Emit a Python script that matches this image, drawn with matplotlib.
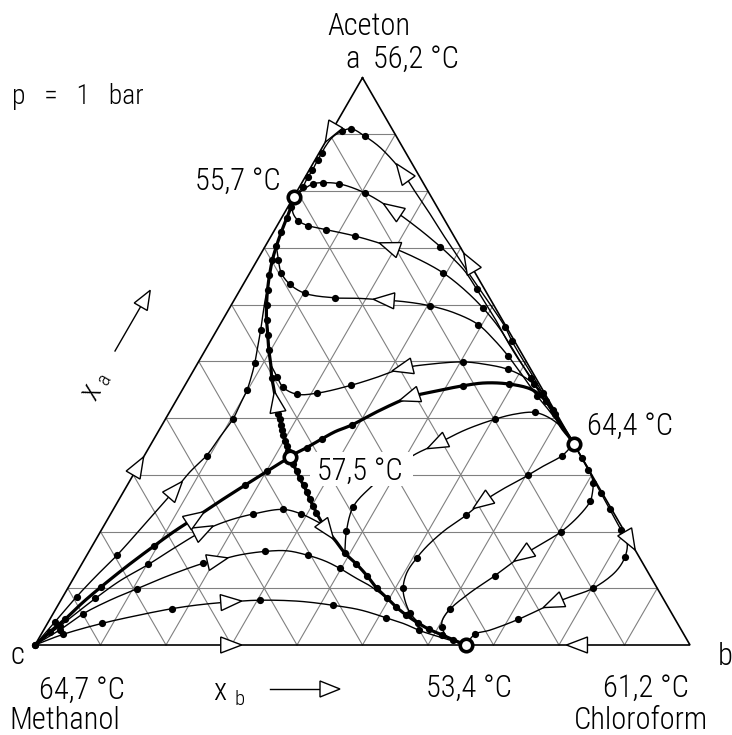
import numpy as np
import matplotlib
matplotlib.use("Agg")
import matplotlib.pyplot as plt
from matplotlib.patches import Polygon, Rectangle

plt.rcParams['font.family'] = ['Roboto Condensed', 'Liberation Sans Narrow',
                               'Liberation Sans', 'DejaVu Sans']
plt.rcParams['font.weight'] = 'light'

# compositions are (x_a, x_b): a = Aceton, b = Chloroform, c = Methanol
A = (1.0, 0.0)
B = (0.0, 1.0)
C = (0.0, 0.0)
AZ_AC = (0.790, 0.0)      # 55,7 °C
AZ_AB = (0.355, 0.645)    # 64,4 °C
AZ_CB = (0.0, 0.658)      # 53,4 °C
AZ_ABC = (0.331, 0.224)   # 57,5 °C

# residue curves, each from its high boiling end to the low boiling end
alpha = [AZ_AB, (0.398, 0.599), (0.437, 0.560), (0.476, 0.521), (0.511, 0.485),
         (0.536, 0.460), (0.561, 0.437), (0.591, 0.405), (0.622, 0.371), (0.652, 0.338),
         (0.684, 0.304), (0.719, 0.266), (0.760, 0.223), (0.797, 0.183), (0.832, 0.146),
         (0.859, 0.113), (0.880, 0.084), (0.897, 0.055), (0.910, 0.028), (0.906, 0.016),
         (0.896, 0.007), (0.880, 0.004), (0.867, 0.004), (0.855, 0.004), (0.837, 0.005),
         (0.825, 0.004), (0.807, 0.005), AZ_AC]
alpha_dots = [5, 6, 17, 18, 19, 22, 23, 24, 25, 26]
alpha_arrows = [14]

beta = [AZ_AB, (0.400, 0.597), (0.435, 0.559), (0.471, 0.522), (0.502, 0.488),
        (0.534, 0.455), (0.568, 0.422), (0.598, 0.391), (0.627, 0.361), (0.658, 0.328),
        (0.681, 0.298), (0.702, 0.268), (0.735, 0.217), (0.767, 0.163), (0.797, 0.105),
        (0.813, 0.058), (0.815, 0.032), (0.813, 0.018), (0.804, 0.009), AZ_AC]
beta_dots = [3, 8, 11, 14, 15, 16, 17]
beta_arrows = [13]

gamma = [AZ_AB, (0.395, 0.601), (0.428, 0.566), (0.460, 0.532), (0.495, 0.496),
         (0.527, 0.463), (0.561, 0.427), (0.594, 0.387), (0.628, 0.340), (0.656, 0.295),
         (0.679, 0.248), (0.702, 0.191), (0.721, 0.128), (0.732, 0.079), (0.739, 0.048),
         (0.748, 0.028), (0.763, 0.012), AZ_AC]
gamma_dots = [3, 7, 9, 12, 13, 14, 15]
gamma_arrows = [11]

delta = [AZ_AB, (0.391, 0.604), (0.416, 0.575), (0.439, 0.547), (0.474, 0.508),
         (0.510, 0.467), (0.538, 0.432), (0.565, 0.394), (0.585, 0.349), (0.598, 0.304),
         (0.605, 0.263), (0.608, 0.230), (0.611, 0.191), (0.612, 0.152), (0.620, 0.102),
         (0.636, 0.071), (0.656, 0.048), (0.679, 0.032), (0.703, 0.017)]
delta_dots = [3, 5, 7, 9, 13, 14, 15, 16, 17]
delta_arrows = [11]

eta = [AZ_AB, (0.386, 0.608), (0.414, 0.584), (0.444, 0.553), (0.469, 0.517),
       (0.486, 0.479), (0.495, 0.439), (0.499, 0.404), (0.495, 0.355), (0.488, 0.318),
       (0.471, 0.284), (0.458, 0.254), (0.444, 0.209), (0.442, 0.179), (0.454, 0.152),
       (0.473, 0.133), (0.494, 0.113)]
eta_dots = [2, 3, 5, 7, 11, 12, 13, 14, 15]
eta_arrows = [9]

theta = [C, (0.041, 0.010), (0.085, 0.021), (0.120, 0.032), (0.158, 0.046),
         (0.213, 0.061), (0.273, 0.077), (0.305, 0.084), (0.334, 0.095), (0.367, 0.099),
         (0.399, 0.103), (0.425, 0.101), (0.449, 0.099), (0.472, 0.094), (0.497, 0.087),
         (0.529, 0.076), (0.555, 0.067), (0.587, 0.055), (0.612, 0.046), (0.626, 0.042)]
theta_dots = [0, 1, 2, 4, 8, 10, 12, 14, 16]
theta_arrows = [6]

iota2 = [C, (0.033, 0.021), (0.082, 0.051), (0.113, 0.073), (0.142, 0.102),
         (0.172, 0.128), (0.201, 0.156), (0.219, 0.185), (0.231, 0.218), (0.239, 0.259),
         (0.231, 0.291), (0.213, 0.332)]
iota2_dots = [1, 2, 4, 8, 9, 10, 11]
iota2_arrows = [6]

iota3 = [C, (0.027, 0.025), (0.055, 0.046), (0.079, 0.075), (0.099, 0.106),
         (0.123, 0.144), (0.144, 0.185), (0.149, 0.203), (0.159, 0.234), (0.165, 0.269),
         (0.166, 0.302), (0.158, 0.338), (0.148, 0.369), (0.135, 0.398), (0.118, 0.431),
         (0.106, 0.456), (0.083, 0.496)]
iota3_dots = [1, 2, 4, 6, 9, 11, 13]
iota3_arrows = [7]

iota4 = [C, (0.019, 0.034), (0.038, 0.083), (0.052, 0.130), (0.064, 0.177),
         (0.071, 0.216), (0.076, 0.260), (0.079, 0.304), (0.077, 0.366), (0.070, 0.420),
         (0.062, 0.465), (0.048, 0.512), (0.037, 0.546), (0.026, 0.573), (0.014, 0.611),
         (0.006, 0.638), AZ_CB]
iota4_dots = [1, 2, 4, 7, 9, 11, 13]
iota4_arrows = [6]

epsilon = [AZ_AB, (0.383, 0.613), (0.400, 0.586), (0.410, 0.558), (0.407, 0.529),
           (0.398, 0.503), (0.379, 0.467), (0.355, 0.437), (0.335, 0.411), (0.309, 0.391),
           (0.277, 0.373), (0.244, 0.364), (0.201, 0.375), (0.162, 0.392)]
epsilon_dots = [3, 5, 11, 12]
epsilon_arrows = [7]

zeta1 = [AZ_AB, (0.334, 0.638), (0.317, 0.620), (0.299, 0.603), (0.277, 0.579),
         (0.252, 0.557), (0.229, 0.544), (0.203, 0.525), (0.176, 0.512), (0.153, 0.506),
         (0.127, 0.504), (0.100, 0.512), (0.078, 0.526), (0.056, 0.545), (0.041, 0.564),
         (0.028, 0.587)]
zeta1_dots = [1, 3, 6, 9, 11, 13]
zeta1_arrows = [5]

zeta2 = [AZ_AB, (0.330, 0.670), (0.305, 0.695), (0.286, 0.709), (0.268, 0.717),
         (0.253, 0.721), (0.226, 0.716), (0.199, 0.703), (0.179, 0.685), (0.159, 0.666),
         (0.122, 0.641), (0.092, 0.618), (0.063, 0.602), (0.044, 0.600), (0.031, 0.606),
         (0.016, 0.620), (0.006, 0.638), AZ_CB]
zeta2_dots = [1, 3, 5, 7, 10, 12, 14]
zeta2_arrows = [9]

zeta3 = [AZ_AB, (0.309, 0.690), (0.268, 0.730), (0.239, 0.758), (0.203, 0.793),
         (0.180, 0.814), (0.156, 0.823), (0.130, 0.822), (0.100, 0.802), (0.085, 0.775),
         (0.074, 0.755), (0.045, 0.715), (0.026, 0.681), (0.019, 0.662), AZ_CB]
zeta3_dots = [1, 2, 3, 4, 6, 8, 11, 13]
zeta3_arrows = [10]

# distillation boundaries (separatrices)
sep_ab = [AZ_AB, (0.381, 0.617), (0.407, 0.590), (0.430, 0.565), (0.450, 0.534),
          (0.460, 0.494), (0.462, 0.456), (0.457, 0.425), (0.448, 0.390), (0.437, 0.354),
          (0.414, 0.320), (0.388, 0.290), (0.376, 0.270), (0.363, 0.256), (0.348, 0.241),
          (0.340, 0.231), AZ_ABC]
sep_ab_dots = [2, 3, 5, 7, 11, 13, 14]
sep_ab_arrows = [9]

sep_ac = [AZ_ABC, (0.342, 0.215), (0.351, 0.209), (0.360, 0.202), (0.370, 0.194),
          (0.379, 0.188), (0.388, 0.182), (0.398, 0.175), (0.407, 0.168), (0.427, 0.155),
          (0.450, 0.140), (0.471, 0.126), (0.494, 0.113), (0.520, 0.097), (0.547, 0.082),
          (0.573, 0.067), (0.599, 0.054), (0.626, 0.042), (0.652, 0.032), (0.679, 0.023),
          (0.703, 0.017), (0.728, 0.012), (0.753, 0.008), (0.772, 0.005), AZ_AC]
sep_ac_dots = [1, 2, 3, 4, 5, 6, 7, 8, 11, 13, 14, 15, 16, 17, 18, 19, 20, 21, 22, 23]
sep_ac_arrows = [9]

sep_c = [C, (0.023, 0.011), (0.045, 0.023), (0.074, 0.035), (0.103, 0.050),
         (0.139, 0.071), (0.174, 0.094), (0.201, 0.113), (0.224, 0.132), (0.254, 0.156),
         (0.282, 0.180), (0.306, 0.201), (0.321, 0.214), AZ_ABC]
sep_c_dots = [0, 1, 2, 4, 6, 10, 11]
sep_c_arrows = [8]

sep_cb = [AZ_ABC, (0.319, 0.234), (0.307, 0.246), (0.294, 0.257), (0.282, 0.269),
          (0.270, 0.280), (0.257, 0.291), (0.245, 0.302), (0.233, 0.313), (0.219, 0.327),
          (0.203, 0.344), (0.182, 0.369), (0.162, 0.392), (0.143, 0.419), (0.122, 0.446),
          (0.100, 0.472), (0.083, 0.496), (0.067, 0.518), (0.053, 0.540), (0.039, 0.565),
          (0.028, 0.587), (0.018, 0.612), (0.009, 0.634), AZ_CB]
sep_cb_dots = [1, 2, 3, 4, 5, 6, 7, 8, 12, 13, 14, 15, 16, 17, 18, 19, 20, 21, 22]
sep_cb_arrows = [10]

# arrow positions on the binary edges
edge_c_ac = [C, (0.314, 0.0), AZ_AC]
edge_a_ac = [A, (0.904, 0.0), AZ_AC]
edge_ab_a = [AZ_AB, (0.673, 0.327), A]
edge_ab_b = [AZ_AB, (0.185, 0.815), B]
edge_c_cb = [C, (0.0, 0.298), AZ_CB]
edge_b_cb = [B, (0.0, 0.829), AZ_CB]

S = 655.0   # pixels per unit side


def tern(pts):
    p = np.asarray(pts, float)
    a, b = p[:, 0], p[:, 1]
    return np.column_stack([b + a / 2, a * np.sqrt(3) / 2])


def px(x, y):
    return (x - 35) / S, (645 - y) / S


def catmull(P, n=10):
    P = np.asarray(P, float)
    if len(P) < 3:
        return P
    ext = np.vstack([2 * P[0] - P[1], P, 2 * P[-1] - P[-2]])
    out = [P[:1]]
    for i in range(len(P) - 1):
        p0, p1, p2, p3 = ext[i], ext[i + 1], ext[i + 2], ext[i + 3]
        t0 = 0.0
        t1 = t0 + max(np.hypot(*(p1 - p0)), 1e-9) ** 0.5
        t2 = t1 + max(np.hypot(*(p2 - p1)), 1e-9) ** 0.5
        t3 = t2 + max(np.hypot(*(p3 - p2)), 1e-9) ** 0.5
        t = np.linspace(t1, t2, n + 1)[1:, None]
        A1 = (t1 - t) / (t1 - t0) * p0 + (t - t0) / (t1 - t0) * p1
        A2 = (t2 - t) / (t2 - t1) * p1 + (t - t1) / (t2 - t1) * p2
        A3 = (t3 - t) / (t3 - t2) * p2 + (t - t2) / (t3 - t2) * p3
        B1 = (t2 - t) / (t2 - t0) * A1 + (t - t0) / (t2 - t0) * A2
        B2 = (t3 - t) / (t3 - t1) * A2 + (t - t1) / (t3 - t1) * A3
        out.append((t2 - t) / (t2 - t1) * B1 + (t - t1) / (t2 - t1) * B2)
    return np.vstack(out)


def arrowhead(ax, x, y, dx, dy, length=21 / S, half=8 / S, back=0.45):
    n = np.hypot(dx, dy)
    u = np.array([dx, dy]) / n
    v = np.array([-u[1], u[0]])
    c = np.array([x, y])
    tip = c + (1 - back) * length * u
    base = c - back * length * u
    ax.add_patch(Polygon([tip, base + half * v, base - half * v], closed=True,
                         fc='white', ec='black', lw=1.0, zorder=5, joinstyle='miter'))


def draw_curve(ax, pts, dots, arrows, lw):
    xy = tern(pts)
    sm = catmull(xy)
    ax.plot(sm[:, 0], sm[:, 1], color='black', lw=lw, zorder=3,
            solid_capstyle='round', solid_joinstyle='round')
    if dots:
        ax.plot(xy[dots, 0], xy[dots, 1], 'o', color='black', ms=5.2, mew=0, zorder=4)
    for i in arrows:
        d = xy[min(i + 1, len(xy) - 1)] - xy[max(i - 1, 0)]
        arrowhead(ax, xy[i, 0], xy[i, 1], d[0], d[1])


fig = plt.figure(figsize=(7.32, 7.35), dpi=100)
ax = fig.add_axes([0, 0, 1, 1])
ax.set_xlim(-35 / S, 697 / S)
ax.set_ylim(-90 / S, 645 / S)
ax.axis('off')

# 10 % grid
for k in range(1, 10):
    f = k / 10
    for seg in ([(f, 0), (f, 1 - f)], [(0, f), (1 - f, f)], [(0, 1 - f), (1 - f, 0)]):
        g = tern(seg)
        ax.plot(g[:, 0], g[:, 1], color='0.5', lw=0.8, zorder=1)

tri = tern([A, B, C, A])
ax.plot(tri[:, 0], tri[:, 1], color='black', lw=1.2, zorder=3,
        solid_joinstyle='miter')

thin = [(alpha, alpha_dots, alpha_arrows), (beta, beta_dots, beta_arrows),
        (gamma, gamma_dots, gamma_arrows), (delta, delta_dots, delta_arrows),
        (eta, eta_dots, eta_arrows), (theta, theta_dots, theta_arrows),
        (iota2, iota2_dots, iota2_arrows), (iota3, iota3_dots, iota3_arrows),
        (iota4, iota4_dots, iota4_arrows), (epsilon, epsilon_dots, epsilon_arrows),
        (zeta1, zeta1_dots, zeta1_arrows), (zeta2, zeta2_dots, zeta2_arrows),
        (zeta3, zeta3_dots, zeta3_arrows)]
thick = [(sep_ab, sep_ab_dots, sep_ab_arrows), (sep_ac, sep_ac_dots, sep_ac_arrows),
         (sep_c, sep_c_dots, sep_c_arrows), (sep_cb, sep_cb_dots, sep_cb_arrows)]

for pts, d, a in thin:
    draw_curve(ax, pts, d, a, 1.0)
for pts, d, a in thick:
    draw_curve(ax, pts, d, a, 2.3)

for edge in (edge_c_ac, edge_a_ac, edge_ab_a, edge_ab_b, edge_c_cb, edge_b_cb):
    e = tern(edge)
    d = e[2] - e[0]
    arrowhead(ax, e[1, 0], e[1, 1], d[0], d[1])

# azeotropes
az = tern([AZ_AC, AZ_AB, AZ_CB, AZ_ABC])
ax.plot(az[:, 0], az[:, 1], 'o', ms=9, mfc='white', mec='black', mew=2.6, zorder=8)

# white patch behind the ternary azeotrope label
x0, y0 = px(310, 486)
ax.add_patch(Rectangle((x0, y0), 103 / S, 34 / S, fc='white', ec='none', zorder=6))

FS = 22
kw = dict(va='baseline', zorder=7, fontsize=FS)
ax.text(*px(369, 35), 'Aceton', ha='center', **kw)
ax.text(*px(345, 68), 'a', ha='left', **kw)
ax.text(*px(373, 68), '56,2 °C', ha='left', **kw)
ax.text(*px(12, 104), 'p   =   1   bar', ha='left', va='baseline', fontsize=20)
ax.text(*px(238, 190), '55,7 °C', ha='center', **kw)
ax.text(*px(630, 435), '64,4 °C', ha='center', **kw)
ax.text(*px(359.5, 480), '57,5 °C', ha='center', **kw)
ax.text(*px(10, 664), 'c', ha='left', **kw)
ax.text(*px(718, 665), 'b', ha='left', **kw)
ax.text(*px(82, 699), '64,7 °C', ha='center', **kw)
ax.text(*px(65, 729), 'Methanol', ha='center', **kw)
ax.text(*px(468.5, 697), '53,4 °C', ha='center', **kw)
ax.text(*px(646, 697), '61,2 °C', ha='center', **kw)
ax.text(*px(641, 729), 'Chloroform', ha='center', **kw)

# composition axes: x_b along the base, x_a along the left side
ax.text(*px(213, 700), 'x', ha='left', **kw)
ax.text(*px(234, 705), 'b', ha='left', va='baseline', fontsize=15, zorder=7)
p0, p1 = px(270, 689), px(322, 689)
ax.plot([p0[0], p1[0]], [p0[1], p1[1]], color='black', lw=1.0)
arrowhead(ax, *px(330, 689), 1, 0, length=20 / S, half=8 / S, back=0.5)

ax.text(*px(91.5, 392), 'x', ha='center', va='center', rotation=60, fontsize=FS)
ax.text(*px(105, 378.5), 'a', ha='center', va='center', rotation=60, fontsize=15)
q0, q1 = px(115, 351), px(141, 306)
ax.plot([q0[0], q1[0]], [q0[1], q1[1]], color='black', lw=1.0)
arrowhead(ax, *px(145.5, 298.5), 0.5, np.sqrt(3) / 2, length=19 / S, half=7.5 / S, back=0.5)

fig.savefig('out.png', dpi=100)
